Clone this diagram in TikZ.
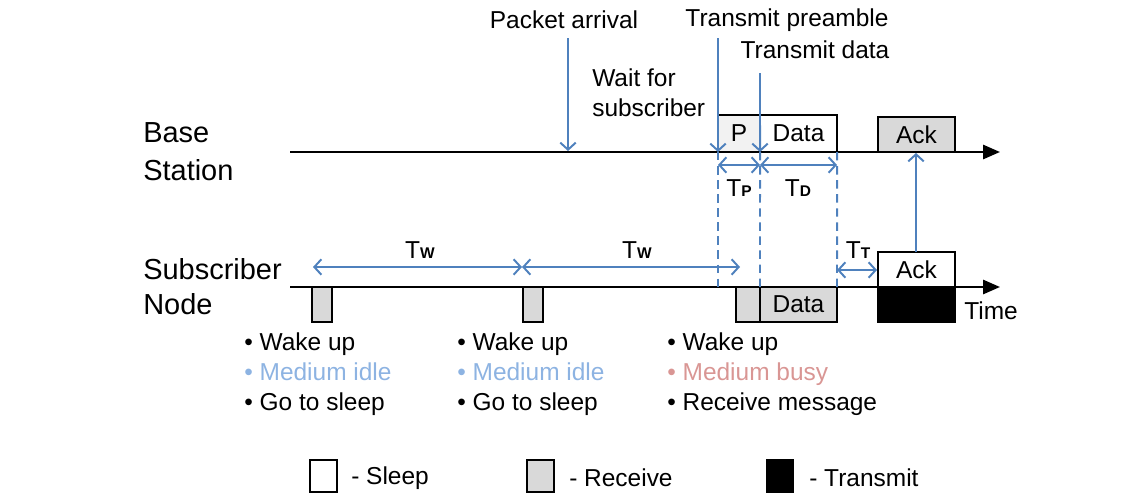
\documentclass[tikz,border=0pt]{standalone}
\usepackage{fontspec}
\setmainfont{Liberation Sans}
\usetikzlibrary{arrows.meta}
\definecolor{arrowblue}{HTML}{4F81BD}
\definecolor{idleblue}{HTML}{8DB3E2}
\definecolor{busyred}{HTML}{D99694}
\definecolor{rxgray}{HTML}{D9D9D9}
\definecolor{pgray}{HTML}{F2F2F2}
\newcommand{\tsub}[1]{T{\fontsize{11}{12}\selectfont\bfseries #1}}
\tikzset{
  lbl/.style={font=\fontsize{20.6}{25}\selectfont, align=left, anchor=west, inner sep=0pt},
  txt/.style={font=\fontsize{17.4}{21.3}\selectfont, inner sep=0pt},
  sig/.style={draw=arrowblue, line width=1.4pt, -{Straight Barb[length=5pt,width=11pt]}},
  span/.style={draw=arrowblue, line width=1.4pt, {Straight Barb[length=5pt,width=11pt]}-{Straight Barb[length=5pt,width=11pt]}},
  guide/.style={draw=arrowblue, line width=1.4pt, dash pattern=on 6pt off 4pt},
  axis/.style={line width=1.7pt, -{Triangle[length=12pt,width=10pt]}},
  slot/.style={draw, line width=1.4pt, inner sep=0pt, outer sep=0pt, font=\fontsize{17.4}{20}\selectfont},
  legbox/.style={draw, line width=1pt, minimum width=0.675cm, minimum height=0.8cm, inner sep=0pt}
}
\begin{document}
\begin{tikzpicture}[x=0.025cm, y=-0.025cm]
  \useasboundingbox (0,0) rectangle (1145,494);

  % time lines
  \coordinate (bsL) at (290,152);
  \coordinate (bsR) at (1000,152);
  \coordinate (snL) at (290,287);
  \coordinate (snR) at (1000,287);
  \draw[axis] (bsL) -- (bsR);
  \draw[axis] (snL) -- (snR);
  \node[lbl] (bs) at (143,152) {Base\\[2pt]Station};
  \node[lbl] (sn) at (143,287) {Subscriber\\Node};
  \node[txt, anchor=west] (time) at (964,311) {Time};

  % base station packets
  \node[slot, fill=pgray, minimum width=1.05cm, minimum height=0.925cm, anchor=south west] (pre) at (718,152) {P};
  \node[slot, fill=white, minimum width=1.925cm, minimum height=0.925cm, anchor=south west] (data) at (pre.south east) {Data};
  \node[slot, fill=rxgray, minimum width=1.925cm, minimum height=0.875cm, anchor=south west] (ackB) at (878,152) {Ack};

  % subscriber slots
  \node[slot, fill=rxgray, minimum width=0.5cm, minimum height=0.875cm, anchor=north west] (rx1) at (312,287) {};
  \node[slot, fill=rxgray, minimum width=0.5cm, minimum height=0.875cm, anchor=north west] (rx2) at (523,287) {};
  \node[slot, fill=rxgray, minimum width=0.6cm, minimum height=0.875cm, anchor=north west] (rx3) at (736,287) {};
  \node[slot, fill=rxgray, minimum width=1.925cm, minimum height=0.875cm, anchor=north west] (rxD) at (760,287) {Data};
  \node[slot, fill=white, minimum width=1.925cm, minimum height=0.875cm, anchor=south west] (ackS) at (878,287) {Ack};
  \node[slot, fill=black, minimum width=1.925cm, minimum height=0.875cm, anchor=north west] (txS) at (878,287) {};

  % events
  \node[txt] (arr) at (564,20) {Packet arrival};
  \node[txt] (tpre) at (787,20) {Transmit preamble};
  \node[txt] (tdat) at (815,50) {Transmit data};
  \node[txt, anchor=west, align=left] (wait) at (592,93) {Wait for\\subscriber};
  \coordinate (arrT) at (568,38);
  \coordinate (arrB) at (568,151);
  \coordinate (tpreT) at (718,38);
  \coordinate (tdatT) at (760,73);
  \coordinate (ackUp) at (916,252);
  \coordinate (ackTop) at (916,153);
  \draw[sig] (arrT) -- (arrB);
  \draw[sig] (tpreT) -- (pre.south west);
  \draw[sig] (tdatT) -- (pre.south east);
  \draw[sig] (ackUp) -- (ackTop);

  % guides
  \coordinate (g1) at (718,287);
  \coordinate (g2) at (760,287);
  \coordinate (g3) at (837,287);
  \draw[guide] (pre.south west) -- (g1);
  \draw[guide] (pre.south east) -- (g2);
  \draw[guide] (data.south east) -- (g3);

  % intervals
  \coordinate (tpL) at (718,165);
  \coordinate (tpM) at (760,165);
  \coordinate (tpR) at (837,165);
  \draw[span] (tpL) -- (tpM);
  \draw[span] (tpM) -- (tpR);
  \node[txt] (tp) at (739,188) {\tsub{P}};
  \node[txt] (td) at (798,188) {\tsub{D}};
  \coordinate (w1) at (313,267);
  \coordinate (w2) at (522,267);
  \coordinate (w3) at (740,267);
  \draw[span] (w1) -- (w2);
  \draw[span] (w2) -- (w3);
  \node[txt] (tw1) at (420,250) {\tsub{W}};
  \node[txt] (tw2) at (637,250) {\tsub{W}};
  \coordinate (tt1) at (837,270);
  \coordinate (tt2) at (877,270);
  \draw[span] (tt1) -- (tt2);
  \node[txt] (tt) at (858,250) {\tsub{T}};

  % slot notes
  \node[txt, anchor=west, align=left] (n1) at (244,374) {• Wake up\\\textcolor{idleblue}{• Medium idle}\\• Go to sleep};
  \node[txt, anchor=west, align=left] (n2) at (457,374) {• Wake up\\\textcolor{idleblue}{• Medium idle}\\• Go to sleep};
  \node[txt, anchor=west, align=left] (n3) at (667,374) {• Wake up\\\textcolor{busyred}{• Medium busy}\\• Receive message};

  % legend
  \node[legbox, fill=white] (kSleep) at (323.5,476) {};
  \node[txt, anchor=west] (lSleep) at (351,478) {- Sleep};
  \node[legbox, fill=rxgray] (kRx) at (540.5,476) {};
  \node[txt, anchor=west] (lRx) at (569,478) {- Receive};
  \node[legbox, fill=black] (kTx) at (780,476) {};
  \node[txt, anchor=west] (lTx) at (809,478) {- Transmit};
\end{tikzpicture}
\end{document}
